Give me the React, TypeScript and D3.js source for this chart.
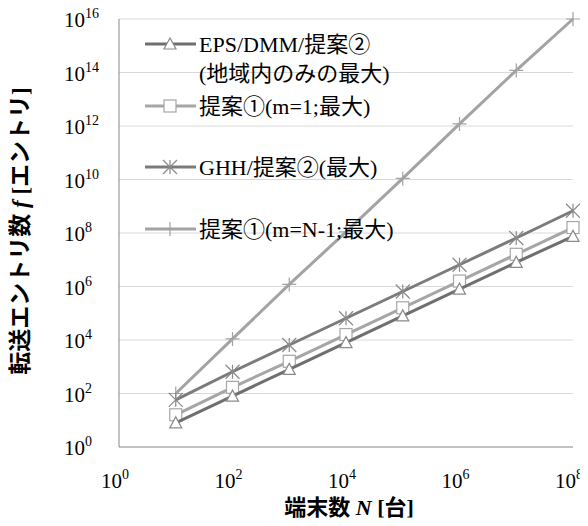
import React, { useEffect, useRef } from 'react';
import * as d3 from 'd3';

// x values (number of terminals N)
const nValues = [1e1, 1e2, 1e3, 1e4, 1e5, 1e6, 1e7, 1e8];

const epsValues = [8, 80, 8e2, 8e3, 8e4, 8e5, 8e6, 7.5e7];
const prop1Values = [16, 170, 1.6e3, 1.6e4, 1.6e5, 1.6e6, 1.6e7, 1.6e8];
const ghhValues = [58, 650, 6.5e3, 6.5e4, 6.5e5, 6.5e6, 6.5e7, 6.8e8];
const prop1NValues = [1e2, 1.1e4, 1.2e6, 1.1e8, 1.1e10, 1.2e12, 1.2e14, 1e16];

const xTicks = [0, 2, 4, 6, 8];
const yTicks = [0, 2, 4, 6, 8, 10, 12, 14, 16];

const seriesNames = [
  ['EPS/DMM/提案②', '(地域内のみの最大)'],
  ['提案①(m=1;最大)'],
  ['GHH/提案②(最大)'],
  ['提案①(m=N-1;最大)'],
];

const FONT = "Times New Roman, Liberation Serif, Noto Sans CJK JP, serif";

export default function App() {
  const svgRef = useRef<SVGSVGElement>(null);

  useEffect(() => {
    if (!svgRef.current) return;
    const width = 588, height = 526;
    const svg = d3.select(svgRef.current);
    svg.selectAll('*').remove();
    svg.attr('width', width).attr('height', height);

    const margin = { left: 119, right: 15, top: 19, bottom: 79 };
    const x = d3.scaleLog().domain([1, 1e8]).range([margin.left, width - margin.right]);
    const y = d3.scaleLog().domain([1, 1e16]).range([height - margin.bottom, margin.top]);

    // gridlines
    svg.append('g').selectAll('line')
      .data(yTicks.filter(t => t > 0))
      .enter().append('line')
      .attr('x1', margin.left).attr('x2', width - margin.right)
      .attr('y1', d => y(Math.pow(10, d))).attr('y2', d => y(Math.pow(10, d)))
      .attr('stroke', '#d9d9d9').attr('stroke-width', 1);

    // axes
    svg.append('line')
      .attr('x1', margin.left).attr('x2', margin.left)
      .attr('y1', margin.top).attr('y2', height - margin.bottom)
      .attr('stroke', '#868686');
    svg.append('line')
      .attr('x1', margin.left).attr('x2', width - margin.right)
      .attr('y1', height - margin.bottom).attr('y2', height - margin.bottom)
      .attr('stroke', '#868686');

    // y tick labels
    yTicks.forEach(t => {
      const txt = svg.append('text')
        .attr('x', 64).attr('y', y(Math.pow(10, t)) + 8)
        .attr('font-family', FONT).attr('font-size', 21).attr('fill', '#000');
      txt.append('tspan').text('10');
      txt.append('tspan').attr('dy', -9).attr('font-size', 14).text(String(t));
    });
    // x tick labels
    xTicks.forEach(t => {
      const txt = svg.append('text')
        .attr('x', x(Math.pow(10, t)) - 18).attr('y', 488)
        .attr('font-family', FONT).attr('font-size', 21).attr('fill', '#000');
      txt.append('tspan').text('10');
      txt.append('tspan').attr('dy', -9).attr('font-size', 14).text(String(t));
    });

    // axis titles
    const xt = svg.append('text')
      .attr('x', 349).attr('y', 515).attr('text-anchor', 'middle')
      .attr('font-family', FONT).attr('font-size', 22).attr('font-weight', 'bold');
    xt.append('tspan').text('端末数 ');
    xt.append('tspan').attr('font-style', 'italic').text('N');
    xt.append('tspan').text(' [台]');

    const yt = svg.append('text')
      .attr('transform', 'translate(28,231) rotate(-90)').attr('text-anchor', 'middle')
      .attr('font-family', FONT).attr('font-size', 23).attr('font-weight', 'bold');
    yt.append('tspan').text('転送エントリ数 ');
    yt.append('tspan').attr('font-style', 'italic').text('f');
    yt.append('tspan').text(' [エントリ]');

    const line = d3.line<[number, number]>().x(d => x(d[0])).y(d => y(d[1]));

    const series = [
      { values: epsValues, color: '#6f6f6f', mcolor: '#8a8a8a', marker: 'tri' },
      { values: prop1Values, color: '#a6a6a6', mcolor: '#a6a6a6', marker: 'sq' },
      { values: ghhValues, color: '#7b7b7b', mcolor: '#8a8a8a', marker: 'star' },
      { values: prop1NValues, color: '#a3a3a3', mcolor: '#a3a3a3', marker: 'plus' },
    ];

    const drawMarker = (g: any, type: string, cx: number, cy: number, color: string) => {
      if (type === 'tri') {
        g.append('path')
          .attr('d', `M${cx},${cy - 6}L${cx + 6},${cy + 5}L${cx - 6},${cy + 5}Z`)
          .attr('fill', '#fff').attr('stroke', color).attr('stroke-width', 1.2);
      } else if (type === 'sq') {
        g.append('rect').attr('x', cx - 6).attr('y', cy - 6).attr('width', 12).attr('height', 12)
          .attr('fill', '#fff').attr('stroke', color).attr('stroke-width', 1.2);
      } else if (type === 'star') {
        const r = 7;
        g.append('path')
          .attr('d', `M${cx - r},${cy - r}L${cx + r},${cy + r}M${cx + r},${cy - r}L${cx - r},${cy + r}M${cx},${cy - r}L${cx},${cy + r}`)
          .attr('stroke', color).attr('stroke-width', 1.2).attr('fill', 'none');
      } else {
        const r = 7;
        g.append('path')
          .attr('d', `M${cx - r},${cy}L${cx + r},${cy}M${cx},${cy - r}L${cx},${cy + r}`)
          .attr('stroke', color).attr('stroke-width', 1.2).attr('fill', 'none');
      }
    };

    // draw in reverse so the first series is on top
    [...series].reverse().forEach(s => {
      const pts: [number, number][] = nValues.map((n, i) => [n, s.values[i]]);
      svg.append('path').datum(pts).attr('d', line)
        .attr('fill', 'none').attr('stroke', s.color).attr('stroke-width', 3);
      const g = svg.append('g');
      pts.forEach(p => drawMarker(g, s.marker, x(p[0]), y(p[1]), s.mcolor));
    });

    // legend
    const legendY = [44, 106, 167, 229];
    series.forEach((s, i) => {
      const ly = legendY[i];
      svg.append('line').attr('x1', 145).attr('x2', 196).attr('y1', ly).attr('y2', ly)
        .attr('stroke', s.color).attr('stroke-width', 3);
      drawMarker(svg.append('g'), s.marker, 170, ly, s.mcolor);
      seriesNames[i].forEach((name, j) => {
        svg.append('text').attr('x', 199).attr('y', ly + 8 + j * 29)
          .attr('font-family', FONT).attr('font-size', 22).attr('fill', '#000')
          .text(name);
      });
    });
  }, []);

  return <svg ref={svgRef} style={{ display: 'block', margin: -8 }}></svg>;
}
